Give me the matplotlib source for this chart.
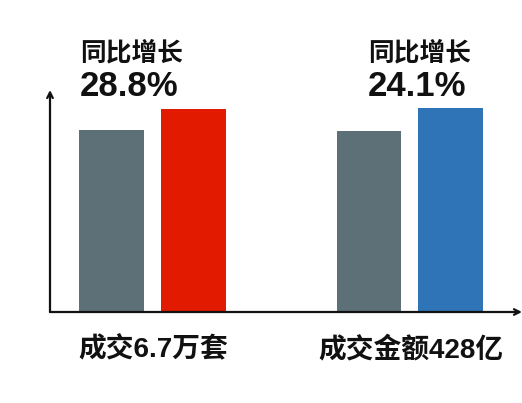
# bar chart: two groups, last year vs this year, with growth labels
import numpy as np
import matplotlib.pyplot as plt

plt.rcParams['font.family'] = ['Liberation Sans', 'Noto Sans CJK SC', 'DejaVu Sans']

# data (relative bar heights)
groups = ['成交6.7万套', '成交金额428亿']
prev_vals = [182, 181]
curr_vals = [203, 204]
growth_title = '同比增长'
growth_pct = ['28.8%', '24.1%']

# colours
gray = '#5d7078'
curr_colors = ['#e11a00', '#2f74b6']

fig = plt.figure(figsize=(5.22, 4.03), dpi=100)
W, H = 522.0, 403.0
ax = fig.add_axes([50 / W, (H - 312) / H, 472 / W, 222 / H])

x = np.arange(len(groups))
bw = 0.252
off = 0.159
ax.bar(x - off, prev_vals, bw, color=gray)
ax.bar(x + off, curr_vals, bw, color=curr_colors)

ax.set_xlim(-0.398, 1.435)
ax.set_ylim(0, 222)
ax.axis('off')

# axes with arrow heads
ax.annotate('', xy=(0, 1), xytext=(0, 0), xycoords='axes fraction',
            arrowprops=dict(arrowstyle='->', lw=1.6, color='#111111',
                            shrinkA=0, shrinkB=0, mutation_scale=10))
ax.annotate('', xy=(1, 0), xytext=(0, 0), xycoords='axes fraction',
            arrowprops=dict(arrowstyle='->', lw=1.6, color='#111111',
                            shrinkA=0, shrinkB=0, mutation_scale=10))

# growth labels above the groups
title_x = [80, 368]
for i in range(len(groups)):
    fig.text(title_x[i] / W, 1 - 53 / H, growth_title, fontsize=18.5,
             fontweight='bold', ha='left', va='center', color='#111111')
    fig.text(title_x[i] / W, 1 - 87 / H, growth_pct[i], fontsize=25,
             fontweight='bold', ha='left', va='center', color='#111111')

# category labels under the axis
label_x = [153.5, 410.5]
for i, g in enumerate(groups):
    fig.text(label_x[i] / W, 1 - 350 / H, g, fontsize=20, fontweight='bold',
             ha='center', va='center', color='#111111')

fig.savefig('out.png', dpi=100)
